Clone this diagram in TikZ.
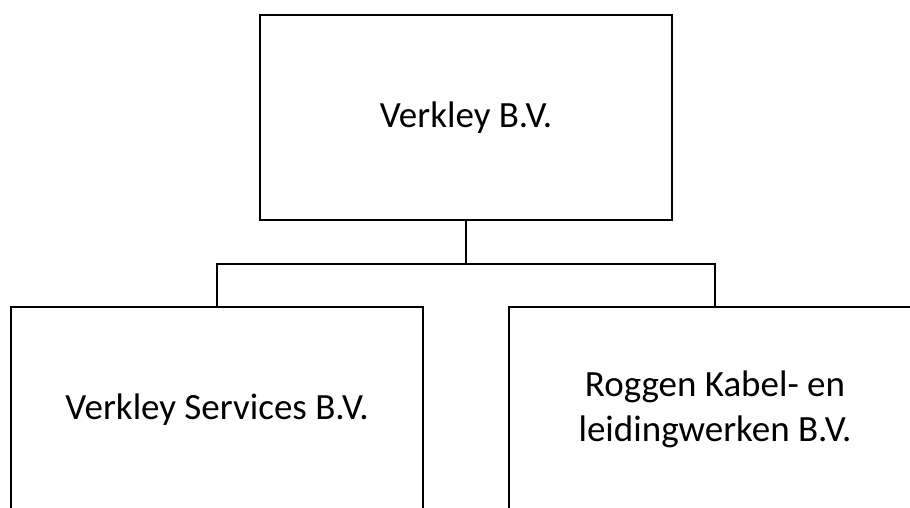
\documentclass[tikz,border=0pt]{standalone}
\usepackage{fontspec}
\setmainfont{Carlito}
\begin{document}
\begin{tikzpicture}[x=1pt,y=-1pt,
  orgbox/.style={draw=black,line width=2pt,minimum width=412pt,minimum height=205pt,inner sep=0pt,align=center,font=\fontsize{37}{45}\selectfont},
  link/.style={draw=black,line width=2pt}]
\useasboundingbox (0,0) rectangle (910,507);
\clip (0,0) rectangle (910,507);
\node[orgbox] (top) at (466,117.5) {Verkley B.V.};
\node[orgbox] (left) at (217,409.5) {Verkley Services B.V.};
\node[orgbox] (right) at (715,409.5) {Roggen Kabel- en\\leidingwerken B.V.};
\coordinate (bar) at (466,264);
\draw[link] (top.south) -- (bar);
\draw[link] (left.north) -- (left.north |- bar) -- (right.north |- bar) -- (right.north);
\end{tikzpicture}
\end{document}
